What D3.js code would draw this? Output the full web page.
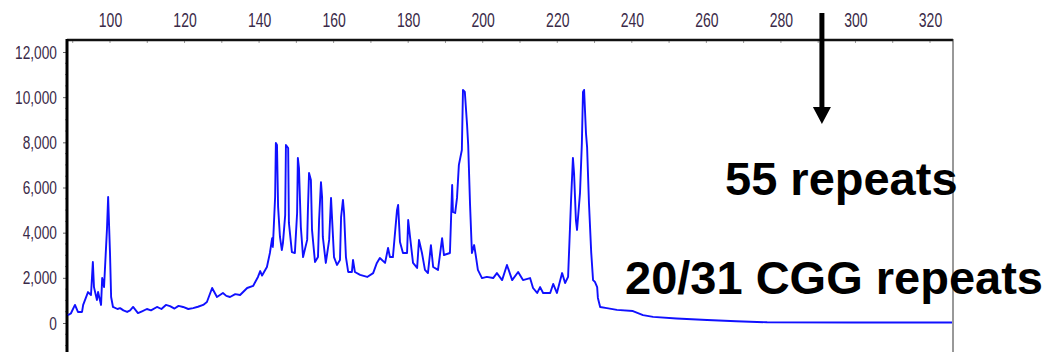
<!DOCTYPE html>
<html>
<head>
<meta charset="utf-8">
<script src="https://cdn.jsdelivr.net/npm/d3@7"></script>
<style>
  body { margin: 0; background: #fff; }
  svg { display: block; }
</style>
</head>
<body>
<svg id="trace" width="1051" height="352"></svg>
<script>
// fragment size (bp) along the top axis, and signal (RFU) of the blue trace
const sizes = [
  88.7, 89.5, 90.6, 91.4, 92.5, 92.8, 94.1, 94.9, 95.4, 95.7, 96.5, 96.8, 97.6, 97.9, 98.4, 99.2, 99.5,
  100.0, 100.3, 100.8, 102.0, 102.7, 103.6, 104.6, 105.4, 106.2, 107.5, 108.6, 109.9, 111.0, 112.6,
  113.8, 115.0, 116.1, 117.3, 118.4, 119.6, 121.0, 122.3, 123.6, 125.0, 126.0,
  127.4, 128.7, 130.3, 131.2, 132.2, 133.6, 134.9, 136.8, 138.4, 139.7, 140.3, 140.8, 142.1, 142.9,
  143.5, 143.7, 144.3, 144.5, 144.8, 145.1, 145.6, 146.1, 146.4, 147.0, 147.2, 147.8, 148.0, 148.8,
  149.6, 150.2, 150.4, 150.7, 151.2, 151.8, 152.9, 153.1, 153.4, 153.9, 154.2, 155.0, 155.8, 156.1,
  156.6, 156.9, 157.1, 157.9, 158.8, 159.3, 159.6, 160.1, 160.9, 161.7, 162.0, 162.5, 162.8, 163.3,
  163.9, 164.9, 165.2, 165.7, 167.1, 169.0, 170.6, 171.6, 172.4, 173.8, 174.6, 175.1, 175.9, 177.0,
  177.3, 177.8, 178.6, 179.7, 180.0, 180.5, 181.3, 182.4, 182.9, 183.7, 184.5, 185.3, 186.1, 186.7,
  188.0, 189.1, 189.6, 191.2, 191.8, 192.0, 192.6, 193.1, 193.6, 194.4, 194.7, 195.2, 195.8, 196.1,
  196.6, 197.1, 197.7, 198.2, 198.7, 199.8, 201.1, 202.8, 203.8, 205.2, 206.5, 207.9, 209.5, 210.8,
  212.7, 213.5, 214.6, 215.4, 216.2, 218.1, 218.9, 219.9, 221.3, 222.1, 222.9, 223.7, 224.2, 224.5,
  225.0, 225.3, 226.1, 226.6, 226.9, 227.2, 227.7, 228.0, 228.5, 229.1, 229.6, 230.1, 230.7, 230.9,
  231.5, 233.3, 236.0, 240.3, 243.0, 245.7, 252.0, 260.2, 268.0, 276.3, 300.0, 325.9
];
const rfu = [
  350, 420, 800, 490, 490, 800, 1370, 1240, 2700, 1590, 1020, 1370, 800, 1990, 1590, 4200, 5580,
  3100, 1150, 710, 620, 660, 560, 490, 560, 710, 440, 520, 620, 560, 710,
  620, 800, 750, 640, 760, 710, 620, 660, 720, 800, 930,
  1550, 1150, 1330, 1200, 1150, 1280, 1240, 1550, 1640, 2040, 2300, 2100, 2480, 3100,
  3760, 3370, 5580, 7970, 7880, 5140, 3810, 3230, 3540, 4780, 7880, 7750, 4430, 3140,
  3100, 4870, 7310, 6860, 4250, 2920, 3680, 5000, 6640, 6330, 4120, 2700, 2920, 4560,
  6240, 5580, 3810, 2660, 3680, 5540, 4560, 2920, 2570, 2790, 4690, 5450, 4870, 2920,
  2260, 2260, 2790, 2260, 2130, 2040, 2210, 2660, 2880, 2660, 3320, 2920, 2920, 5000,
  5230, 3590, 3100, 3100, 4560, 3810, 2660, 2440, 3680, 3100, 2350, 2210, 3450, 2480,
  2350, 3760, 3010, 3100, 6110, 4920, 4870, 5540, 7000, 7660, 10320, 10230, 8770, 7880,
  5230, 3100, 3450, 2920, 2350, 1990, 2040, 1990, 2210, 1900, 2570, 1900, 2260, 1900,
  1990, 1550, 1330, 1590, 1330, 1330, 1730, 1330, 2210, 1770, 2040, 5450, 7310, 6640,
  4560, 4120, 5760, 7970, 10230, 10320, 8410, 7790, 5310, 3140, 1900, 1820, 1590, 1110,
  710, 660, 580, 530, 350, 270, 200, 130, 80, 30, 25, 20
];
const sizeTicks = [100, 120, 140, 160, 180, 200, 220, 240, 260, 280, 300, 320];
const rfuTicks = [0, 2000, 4000, 6000, 8000, 10000, 12000];
const arrowSize = 291;
const labelTop = '55 repeats';
const labelBottom = '20/31 CGG repeats';

const svg = d3.select('#trace');
const frame = { left: 67, right: 953, top: 40, bottom: 352 };

const x = d3.scaleLinear().domain([100, 320]).range([110, 930]);
const y = d3.scaleLinear().domain([0, 12000]).range([323, 52]);

const tickColor = '#3a2a48';
const tickFont = "'Liberation Sans', Arial, sans-serif";

// top axis (size)
const topAxis = svg.append('g')
  .attr('transform', `translate(0, ${frame.top})`)
  .call(d3.axisTop(x).tickValues(sizeTicks).tickSize(0).tickPadding(13).tickFormat(d3.format('d')));
topAxis.select('.domain').remove();
topAxis.selectAll('text')
  .attr('fill', tickColor)
  .attr('font-family', tickFont)
  .attr('font-size', 20)
  .attr('transform', 'scale(0.7,1)');

// minor ticks on the top line
svg.append('g')
  .selectAll('line')
  .data(d3.range(90, 330, 10))
  .join('line')
  .attr('x1', d => x(d)).attr('x2', d => x(d))
  .attr('y1', frame.top).attr('y2', frame.top + 3)
  .attr('stroke', '#999').attr('stroke-width', 1);

// left axis (RFU)
const leftAxis = svg.append('g')
  .attr('transform', `translate(${frame.left}, 0)`)
  .call(d3.axisLeft(y).tickValues(rfuTicks).tickSize(4).tickPadding(10).tickFormat(d3.format(',')));
leftAxis.select('.domain').remove();
leftAxis.selectAll('.tick line').attr('stroke', '#666');
leftAxis.selectAll('text')
  .attr('fill', tickColor)
  .attr('font-family', tickFont)
  .attr('font-size', 19)
  .attr('x', -14)
  .attr('transform', 'scale(0.72,1)');

svg.append('g')
  .selectAll('line')
  .data(d3.range(-1000, 12500, 500).filter(v => v % 2000 !== 0))
  .join('line')
  .attr('x1', frame.left - 2).attr('x2', frame.left)
  .attr('y1', d => y(d)).attr('y2', d => y(d))
  .attr('stroke', '#888').attr('stroke-width', 1);

// frame lines
svg.append('line')
  .attr('x1', frame.left).attr('x2', frame.right)
  .attr('y1', frame.top).attr('y2', frame.top)
  .attr('stroke', '#111').attr('stroke-width', 2.5);
svg.append('line')
  .attr('x1', frame.right).attr('x2', frame.right)
  .attr('y1', frame.top - 1).attr('y2', frame.bottom)
  .attr('stroke', '#333').attr('stroke-width', 1);
svg.append('line')
  .attr('x1', frame.left).attr('x2', frame.left)
  .attr('y1', frame.top - 1).attr('y2', frame.bottom)
  .attr('stroke', '#000').attr('stroke-width', 3);

// the trace
const points = sizes.map((s, i) => [s, rfu[i]]);
svg.append('path')
  .datum(points)
  .attr('fill', 'none')
  .attr('stroke', '#1010ff')
  .attr('stroke-width', 1.9)
  .attr('stroke-linejoin', 'round')
  .attr('d', d3.line().x(d => x(d[0])).y(d => y(d[1])));

// annotation arrow
const ax = x(arrowSize);
svg.append('line')
  .attr('x1', ax).attr('x2', ax)
  .attr('y1', 13).attr('y2', 110)
  .attr('stroke', '#000').attr('stroke-width', 5);
svg.append('path')
  .attr('d', `M${ax - 9},107 L${ax + 9},107 L${ax},124 Z`)
  .attr('fill', '#000');

// annotation text
svg.append('text')
  .text(labelTop)
  .attr('x', 725).attr('y', 195)
  .attr('font-family', "'Liberation Sans', Arial, sans-serif")
  .attr('font-weight', 'bold')
  .attr('font-size', 47)
  .attr('fill', '#000');
svg.append('text')
  .text(labelBottom)
  .attr('x', 625).attr('y', 294)
  .attr('font-family', "'Liberation Sans', Arial, sans-serif")
  .attr('font-weight', 'bold')
  .attr('font-size', 47)
  .attr('fill', '#000');
</script>
</body>
</html>
